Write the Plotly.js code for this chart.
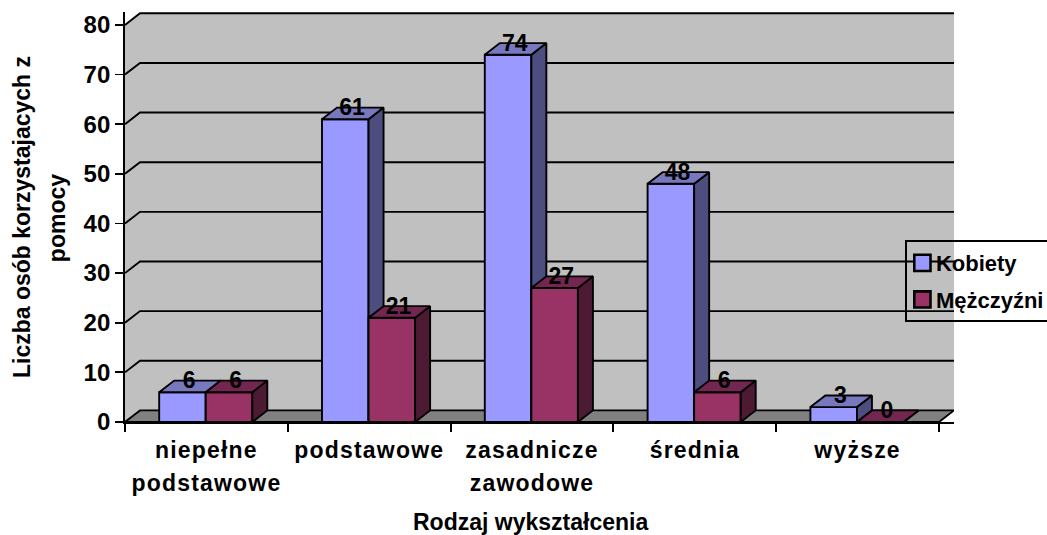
<!DOCTYPE html>
<html><head><meta charset="utf-8">
<script src="https://cdn.plot.ly/plotly-3.0.1.min.js"></script>
<style>
html,body{margin:0;padding:0;background:#fff;overflow:hidden}
.x2tick text,.x3tick text{letter-spacing:1.2px}
.legend .legendpoints path{transform:translate(15.5px,0) scale(1.35) !important}
.legendtext{transform:translateX(-11px)}
</style></head><body><div id="chart" style="width:1047px;height:535px"></div>
<script>
const catLine1 = ['niepełne','podstawowe','zasadnicze','średnia','wyższe'];
const catLine2 = ['podstawowe','','zawodowe','',''];
const kobiety = [6,61,74,48,3];
const mezczyzni = [6,21,27,6,0];
const yTicks = [0,10,20,30,40,50,60,70,80];
const centers = [0.5,1.5,2.5,3.5,4.5];
const edges = [0,1,2,3,4,5];

const ink='#000';
const font='"Liberation Sans",Arial,sans-serif';
const lw=1.9;
const dx=15/162.8, dy=11.6/4.96, bw=0.286;
const yMax=82.6, xMax=5+dx;

function faces(vals, off){
  const sx=[],sy=[],tx=[],ty=[];
  vals.forEach((v,i)=>{
    const a=centers[i]+off, b=a+bw;
    sx.push(b,b+dx,b+dx,b,b,null); sy.push(0,dy,v+dy,v,0,null);
    tx.push(a,b,b+dx,a+dx,a,null); ty.push(v,v,v+dy,v+dy,v,null);
  });
  return {sx,sy,tx,ty};
}
function poly(x,y,color,xa,ya){
  return {type:'scatter',mode:'lines',x,y,fill:'toself',fillcolor:color,
    line:{color:ink,width:lw},showlegend:false,hoverinfo:'skip',xaxis:xa,yaxis:ya,cliponaxis:false};
}
const k=faces(kobiety,-bw-0.004), m=faces(mezczyzni,-0.004);
const traces=[
  {type:'bar',name:'Kobiety',x:centers,y:kobiety,width:bw,offset:-bw-0.004,legendgroup:'k',
   marker:{color:'#9999FF',line:{color:ink,width:lw}},hoverinfo:'skip',xaxis:'x',yaxis:'y'},
  poly(k.sx,k.sy,'#4D4D80','x','y'),
  poly(k.tx,k.ty,'#7878BF','x','y'),
  {type:'bar',name:'Mężczyźni',x:centers,y:mezczyzni,width:bw,offset:-0.004,legendgroup:'m',
   marker:{color:'#993366',line:{color:ink,width:lw}},hoverinfo:'skip',xaxis:'x2',yaxis:'y2'},
  poly(m.sx,m.sy,'#4D1A33','x2','y2'),
  poly(m.tx,m.ty,'#732650','x2','y2'),
  {type:'scatter',mode:'text',showlegend:false,hoverinfo:'skip',xaxis:'x3',yaxis:'y2',cliponaxis:false,
   x:centers.map(c=>c-bw/2+dx/2-0.009).concat(centers.map(c=>c+bw/2+dx/2-0.009)),
   y:kobiety.concat(mezczyzni).map(v=>v+dy-0.4),
   text:kobiety.concat(mezczyzni).map(String),
   textposition:'middle center',textfont:{family:font,size:23,color:ink,weight:700}}
];
const shapes=[
  {type:'path',layer:'below',xref:'x',yref:'y',line:{width:0},fillcolor:'#C0C0C0',
   path:`M0,0 L0,80 L${dx},${80+dy} L${xMax},${80+dy} L${xMax},${dy} L5,0 Z`},
  {type:'path',layer:'below',xref:'x',yref:'y',line:{color:ink,width:lw},fillcolor:'#808080',
   path:`M0,0 L${dx},${dy} L${xMax},${dy} L5,0 Z`}
];
yTicks.filter(v=>v>0).forEach(v=>shapes.push({type:'path',layer:'below',xref:'x',yref:'y',
   line:{color:ink,width:lw},path:`M0,${v} L${dx},${v+dy} L${xMax},${v+dy}`}));

const tf={family:font,size:24,color:ink,weight:700};
const lf={family:font,size:23,color:ink,weight:700};
const tit={family:font,size:23,color:ink,weight:700};
const hidden={range:[0,yMax],visible:false,overlaying:'y',fixedrange:true};
const layout={
  width:1047,height:535,paper_bgcolor:'#fff',plot_bgcolor:'rgba(0,0,0,0)',hovermode:false,
  margin:{l:125,r:93,t:12,b:113.3,pad:0,autoexpand:false},barmode:'overlay',shapes,
  font:{family:font,color:ink},
  xaxis:{range:[0,xMax],tickmode:'array',tickvals:edges,ticktext:edges.map(()=>''),ticks:'outside',ticklen:8,tickwidth:lw,tickcolor:ink,
    showline:true,linecolor:ink,linewidth:lw,showgrid:false,zeroline:false,fixedrange:true},
  xaxis2:{range:[0,xMax],overlaying:'x',side:'bottom',anchor:'y',tickmode:'array',tickvals:centers,ticktext:catLine1,tickfont:lf,
    ticks:'',ticklabelstandoff:12,tickangle:0,showline:false,showgrid:false,zeroline:false,fixedrange:true},
  xaxis3:{range:[0,xMax],overlaying:'x',side:'bottom',anchor:'y',tickmode:'array',tickvals:centers,ticktext:catLine2,tickfont:lf,
    ticks:'',ticklabelstandoff:45,tickangle:0,showline:false,showgrid:false,zeroline:false,fixedrange:true},
  yaxis:{range:[0,yMax],tickmode:'array',tickvals:yTicks,ticktext:yTicks.map(String),tickfont:tf,ticks:'outside',ticklen:8,tickwidth:lw,tickcolor:ink,
    showline:true,linecolor:ink,linewidth:lw,showgrid:false,zeroline:false,fixedrange:true,
    title:{text:'Liczba osób korzystajacych z',font:tit,standoff:46}},
  yaxis2:hidden,
  legend:{x:(905-125)/829,xanchor:'left',y:(421.7-240)/409.7,yanchor:'top',bgcolor:'rgba(0,0,0,0)',
    bordercolor:ink,borderwidth:lw,font:{family:font,size:22,color:ink,weight:700},tracegroupgap:5,traceorder:'grouped'},
  annotations:[
    {xref:'paper',yref:'paper',x:(57-125)/829,y:(421.7-218)/409.7,text:'pomocy',textangle:-90,showarrow:false,
     font:tit,xanchor:'center',yanchor:'middle'},
    {xref:'paper',yref:'paper',x:(530-125)/829,y:(421.7-522)/409.7,text:'Rodzaj wykształcenia',showarrow:false,
     font:tit,xanchor:'center',yanchor:'middle'}
  ]
};
Plotly.newPlot('chart',traces,layout,{displayModeBar:false,staticPlot:true});
</script></body></html>
